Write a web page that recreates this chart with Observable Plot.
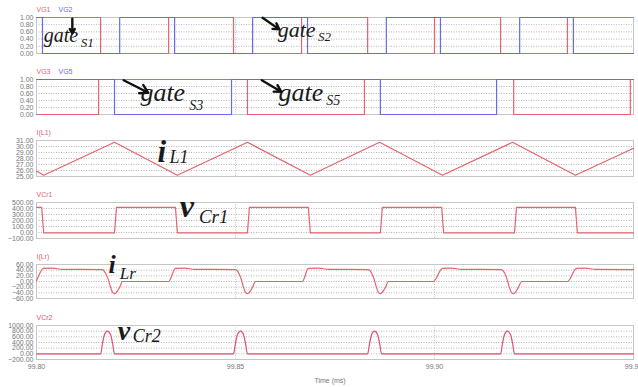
<!DOCTYPE html>
<html><head><meta charset="utf-8">
<script src="https://cdn.jsdelivr.net/npm/d3@7"></script>
<script src="https://cdn.jsdelivr.net/npm/@observablehq/plot@0.6"></script>
<style>
body{margin:0;background:#fff;}
#chart{position:relative;width:638px;height:387px;overflow:hidden;background:#fff;}
#chart svg{position:absolute;left:0;}
</style></head><body><div id="chart"></div>
<script>
// ---------- shared axis data ----------
const xDomain = [99.80, 99.95];
const xTicks = [99.80, 99.85, 99.90, 99.95];
const xGrid = [99.85, 99.90];
const xTitle = "Time (ms)";

// ---------- panel 1 : VG1 / VG2 ----------
const vg1Time  = [99.8000, 99.8161, 99.8332, 99.8495, 99.8666, 99.8832, 99.9000, 99.9166, 99.9334, 99.9500];
const vg1Level = [1, 0, 1, 0, 1, 0, 1, 0, 1, 1];
const vg2Time  = [99.8000, 99.8015, 99.8209, 99.8347, 99.8543, 99.8681, 99.8879, 99.9015, 99.9214, 99.9349, 99.9500];
const vg2Level = [1, 0, 1, 0, 1, 0, 1, 0, 1, 0, 0];
const gateTicks = [0, 0.2, 0.4, 0.6, 0.8, 1.0];

// ---------- panel 2 : VG3 / VG5 ----------
const vg3Time  = [99.8000, 99.8156, 99.8530, 99.8824, 99.9199, 99.9492, 99.9500];
const vg3Level = [0, 1, 0, 1, 0, 1, 1];
const vg5Time  = [99.8000, 99.8196, 99.8490, 99.8864, 99.9156, 99.9500];
const vg5Level = [1, 0, 1, 0, 1, 1];

// ---------- panel 3 : I(L1) ----------
const iL1Time  = [99.8000, 99.8018, 99.8196, 99.8354, 99.8530, 99.8688, 99.8862, 99.9020, 99.9196, 99.9354, 99.9500];
const iL1Value = [25.9, 25.2, 30.7, 25.2, 30.7, 25.2, 30.7, 25.2, 30.7, 25.2, 29.7];
const iL1Ticks = [25, 26, 27, 28, 29, 30, 31];

// ---------- panel 4 : VCr1 ----------
const vCr1Time  = [99.8000, 99.8013, 99.8018, 99.8196, 99.8201, 99.8349, 99.8354, 99.8530, 99.8535, 99.8683, 99.8688,
                   99.8864, 99.8869, 99.9018, 99.9023, 99.9201, 99.9206, 99.9354, 99.9359, 99.9500];
const vCr1Value = [420, 420, -5, -5, 420, 420, -5, -5, 420, 420, -5,
                   -5, 420, 420, -5, -5, 420, 420, -5, -5];
const vCr1Ticks = [-100, 0, 100, 200, 300, 400, 500];

// ---------- panel 5 : I(Lr) ----------
const iLrTime = [99.8000, 99.8018, 99.8040, 99.8065, 99.8166, 99.8173, 99.8181, 99.8186, 99.8191, 99.8196, 99.8201, 99.8209, 99.8216,
                 99.8332, 99.8349, 99.8372, 99.8397, 99.8500, 99.8508, 99.8515, 99.8520, 99.8525, 99.8530, 99.8535, 99.8543, 99.8550,
                 99.8668, 99.8683, 99.8709, 99.8734, 99.8834, 99.8842, 99.8849, 99.8854, 99.8859, 99.8864, 99.8869, 99.8877, 99.8884,
                 99.8997, 99.9020, 99.9043, 99.9068, 99.9168, 99.9176, 99.9183, 99.9188, 99.9193, 99.9198, 99.9203, 99.9211, 99.9219,
                 99.9334, 99.9357, 99.9379, 99.9405, 99.9500];
const iLrValue = [2, 46, 47, 43, 42, 30, 5, -20, -38, -43, -38, -20, 0,
                  0, 46, 47, 43, 42, 30, 5, -20, -38, -43, -38, -20, 0,
                  0, 46, 47, 43, 42, 30, 5, -20, -38, -43, -38, -20, 0,
                  0, 46, 47, 43, 42, 30, 5, -20, -38, -43, -38, -20, 0,
                  0, 46, 47, 43, 42];
const iLrTicks = [-60, -40, -20, 0, 20, 40, 60];

// ---------- panel 6 : VCr2 ----------
const vCr2Time = [99.8000, 99.8161, 99.8166, 99.8171, 99.8178, 99.8186, 99.8191, 99.8196,
                  99.8495, 99.8500, 99.8505, 99.8513, 99.8520, 99.8525, 99.8530,
                  99.8832, 99.8837, 99.8842, 99.8849, 99.8857, 99.8862, 99.8867,
                  99.9166, 99.9171, 99.9176, 99.9183, 99.9191, 99.9196, 99.9201, 99.9500];
const vCr2Value = [0, 0, 380, 680, 800, 680, 380, 0,
                   0, 380, 680, 800, 680, 380, 0,
                   0, 380, 680, 800, 680, 380, 0,
                   0, 380, 680, 800, 680, 380, 0, 0];
const vCr2Ticks = [-200, 0, 200, 400, 600, 800, 1000];

// ---------- styling ----------
const RED = "#e3646e", BLUE = "#6a6ae6", PINK = "#dc4f72";
const SERIF = "'Liberation Serif','Times New Roman',serif";
const SANS = "'Liberation Sans',Arial,sans-serif";
const fmt2 = d3.format(".2f");
const chart = document.getElementById("chart");

function note(t, v, s, size, weight) {
  return Plot.text([s], {x: () => t, y: () => v, text: d => d, fontSize: size, fontWeight: weight || "normal",
    fontStyle: "italic", fontFamily: SERIF, fill: "#1a1a1a", textAnchor: "start", lineAnchor: "bottom"});
}
function arrow(t1, v1, t2, v2) {
  return Plot.arrow([0], {x1: () => t1, y1: () => v1, x2: () => t2, y2: () => v2,
    stroke: "#111", strokeWidth: 2.4, headLength: 8, headAngle: 60});
}

function panel({top, h, mb = 3, yDomain, yTicks, series, names, extra = [], xAxis = false}) {
  const marks = [
    Plot.gridY(yTicks, {stroke: "#b4b4b4", strokeOpacity: 1, strokeDasharray: "1,1.5"}),
    Plot.gridX(xGrid, {stroke: "#c4c4c4", strokeOpacity: 1, strokeDasharray: "1,1.5"}),
    Plot.frame({stroke: "#c6c6c6"}),
    Plot.axisY(yTicks, {tickSize: 0, tickPadding: 3, tickFormat: fmt2, fontSize: 7, fill: "#777", label: null}),
    ...series.map(s => Plot.line(d3.zip(s.t, s.v), {x: d => d[0], y: d => d[1], stroke: s.color,
      strokeWidth: 1.2, curve: s.curve || "linear"})),
    ...names.map(n => Plot.text([n.label], {text: d => d, frameAnchor: "top-left", dx: n.dx, dy: -8,
      fill: n.color, fontSize: 7, fontFamily: SANS, textAnchor: "start", lineAnchor: "middle"})),
    ...extra
  ];
  if (xAxis) {
    marks.push(Plot.axisX(xTicks, {tickSize: 0, tickPadding: 5, tickFormat: fmt2, fontSize: 7, fill: "#777", label: null}));
    marks.push(Plot.text([xTitle], {text: d => d, frameAnchor: "bottom", dx: -5, dy: 21, fontSize: 7,
      fill: "#777", fontFamily: SANS, lineAnchor: "middle"}));
  }
  const svg = Plot.plot({
    width: 638, height: 17 + h + mb,
    marginLeft: 36, marginRight: 5, marginTop: 17, marginBottom: mb,
    style: {background: "transparent", overflow: "visible", fontFamily: SANS},
    x: {domain: xDomain, axis: xAxis ? undefined : null},
    y: {domain: yDomain},
    marks
  });
  svg.style.top = (top - 17) + "px";
  chart.appendChild(svg);
}

panel({top: 17, h: 36, yDomain: [0, 1], yTicks: gateTicks,
  series: [{t: vg1Time, v: vg1Level, color: RED, curve: "step-after"},
           {t: vg2Time, v: vg2Level, color: BLUE, curve: "step-after"}],
  names: [{label: "VG1", color: RED, dx: 0}, {label: "VG2", color: BLUE, dx: 22}],
  extra: [note(99.8018, 0.306, "gate", 20), note(99.8111, 0.167, "S1", 13),
          note(99.8606, 0.472, "gate", 22), note(99.8707, 0.36, "S2", 13),
          arrow(99.8090, 0.97, 99.8090, 0.56), arrow(99.8568, 0.99, 99.8610, 0.67)]});

panel({top: 79, h: 35, yDomain: [0, 1], yTicks: gateTicks,
  series: [{t: vg3Time, v: vg3Level, color: RED, curve: "step-after"},
           {t: vg5Time, v: vg5Level, color: BLUE, curve: "step-after"}],
  names: [{label: "VG3", color: RED, dx: 0}, {label: "VG5", color: BLUE, dx: 22}],
  extra: [note(99.8261, 0.40, "gate", 26), note(99.8384, 0.14, "S3", 14),
          note(99.8608, 0.40, "gate", 26), note(99.8728, 0.28, "S5", 14),
          arrow(99.8219, 0.98, 99.8281, 0.62), arrow(99.8566, 0.98, 99.8615, 0.65)]});

panel({top: 140, h: 36, yDomain: [25, 31], yTicks: iL1Ticks,
  series: [{t: iL1Time, v: iL1Value, color: RED}],
  names: [{label: "I(L1)", color: RED, dx: 0}],
  extra: [note(99.8304, 27.5, "i", 31, "bold"), note(99.8334, 27.28, "L1", 18)]});

panel({top: 202, h: 36, yDomain: [-100, 500], yTicks: vCr1Ticks,
  series: [{t: vCr1Time, v: vCr1Value, color: RED}],
  names: [{label: "VCr1", color: RED, dx: 0}],
  extra: [note(99.8360, 255, "v", 32, "bold"), note(99.8408, 155, "Cr1", 19)]});

panel({top: 264, h: 34, yDomain: [-60, 60], yTicks: iLrTicks,
  series: [{t: iLrTime, v: iLrValue, color: RED, curve: "monotone-x"}],
  names: [{label: "I(Lr)", color: RED, dx: 0}],
  extra: [note(99.8181, 29, "i", 26, "bold"), note(99.8209, 9.5, "Lr", 17)]});

panel({top: 325, h: 34, mb: 28, yDomain: [-200, 1000], yTicks: vCr2Ticks, xAxis: true,
  series: [{t: vCr2Time, v: vCr2Value, color: PINK, curve: "monotone-x"}],
  names: [{label: "VCr2", color: PINK, dx: 0}],
  extra: [note(99.8204, 495, "v", 28, "bold"), note(99.8242, 410, "Cr2", 18)]});
</script></body></html>
